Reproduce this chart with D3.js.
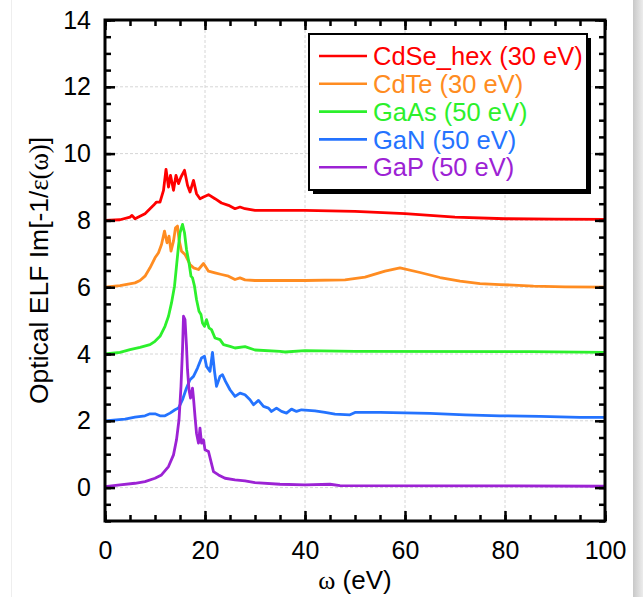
<!DOCTYPE html>
<html>
<head>
<meta charset="utf-8">
<script src="https://cdn.jsdelivr.net/npm/d3@7"></script>
<style>
  html, body { margin: 0; padding: 0; background: #fff; }
  svg { display: block; font-family: "Liberation Sans", Arial, sans-serif; }
</style>
</head>
<body>
<div id="chart"></div>
<script>
// series labels and colours
const seriesNames = ['CdSe_hex (30 eV)', 'CdTe (30 eV)', 'GaAs (50 eV)', 'GaN (50 eV)', 'GaP (50 eV)'];
const seriesColors = ['#ff0000', '#ff8c21', '#2cf02c', '#2473ff', '#9c22d4'];

// values (eV, ELF + offset)
const cdseX = [0, 3, 5, 5.4, 6, 8, 9.7, 10.3, 11, 11.7, 12.2, 12.7, 13.1, 13.7, 14.2, 14.7, 15.2, 15.9, 16.5, 17, 17.7, 18.3, 19, 19.7, 20.7, 22, 23.3, 24.7, 26, 27, 28, 30, 40, 50, 60, 70, 80, 90, 100];
const cdseY = [8.0, 8.02, 8.1, 8.15, 8.05, 8.2, 8.45, 8.55, 8.55, 8.9, 9.53, 9.0, 9.35, 8.9, 9.35, 9.1, 9.3, 9.5, 9.05, 8.85, 9.2, 8.8, 8.65, 8.7, 8.77, 8.65, 8.52, 8.45, 8.35, 8.4, 8.35, 8.3, 8.3, 8.27, 8.2, 8.1, 8.05, 8.04, 8.03];

const cdteX = [0, 3, 6, 7, 8, 9, 10, 10.7, 11.3, 11.9, 12.4, 12.8, 13.2, 13.7, 14.1, 14.5, 14.8, 15.3, 16, 17, 17.7, 18.7, 19.7, 20.7, 22, 23.3, 24.7, 26, 27, 28, 30, 40, 48, 52, 56, 59, 63, 67, 71, 75, 79, 85.7, 92, 100];
const cdteY = [6.0, 6.05, 6.13, 6.2, 6.33, 6.58, 6.88, 7.03, 7.28, 7.68, 7.33, 7.53, 7.08, 7.38, 7.78, 7.83, 7.43, 7.08, 6.98, 6.68, 6.58, 6.53, 6.71, 6.48, 6.43, 6.38, 6.33, 6.23, 6.28, 6.22, 6.2, 6.2, 6.22, 6.3, 6.48, 6.58, 6.44, 6.29, 6.18, 6.11, 6.08, 6.03, 6.01, 6.0];

const gaasX = [0, 3, 5, 7, 9, 10, 11, 12, 12.7, 13.3, 13.9, 14.3, 14.7, 15, 15.5, 15.9, 16.3, 16.8, 17.2, 17.5, 17.9, 18.3, 18.8, 19.2, 19.5, 19.9, 20.3, 20.8, 21.3, 22, 23, 23.7, 25, 26, 28, 30, 35, 36, 40, 50, 85, 100];
const gaasY = [4.0, 4.05, 4.13, 4.2, 4.28, 4.38, 4.53, 4.83, 5.13, 5.53, 6.03, 6.63, 7.23, 7.63, 7.88, 7.63, 7.13, 6.73, 6.33, 6.28, 6.03, 5.63, 5.28, 5.18, 4.93, 4.83, 5.03, 4.78, 4.73, 4.48, 4.43, 4.28, 4.23, 4.18, 4.22, 4.12, 4.08, 4.06, 4.1, 4.08, 4.07, 4.05];

const ganX = [0, 4, 6, 8, 9, 10, 11, 12, 13, 14, 14.7, 15.5, 16.3, 17, 17.7, 18.5, 19.3, 19.9, 20.3, 21, 21.5, 21.9, 22.3, 23, 23.5, 24.1, 25, 26, 27, 28, 29, 29.7, 30.7, 31.7, 32.7, 33.3, 34.3, 35.3, 36.3, 37.3, 38.3, 39.3, 42, 44, 46, 49, 50, 55, 65, 72, 79, 87, 95, 100];
const ganY = [2.0, 2.05, 2.11, 2.15, 2.21, 2.21, 2.15, 2.15, 2.23, 2.33, 2.38, 2.63, 2.98, 3.23, 3.33, 3.58, 3.88, 3.93, 3.63, 3.48, 4.05, 3.48, 3.03, 3.33, 3.38, 3.18, 2.93, 2.73, 2.83, 2.78, 2.63, 2.48, 2.61, 2.43, 2.38, 2.28, 2.38, 2.28, 2.23, 2.35, 2.28, 2.33, 2.3, 2.25, 2.2, 2.18, 2.25, 2.25, 2.22, 2.18, 2.15, 2.13, 2.1, 2.1];

const gapX = [0, 3, 6, 8, 10, 11.3, 12.7, 13.7, 14.3, 14.8, 15.2, 15.5, 15.7, 16, 16.3, 16.5, 16.8, 17.1, 17.5, 17.7, 18, 18.3, 18.7, 19, 19.3, 19.7, 20, 20.7, 21.2, 21.7, 22.7, 24, 26, 28, 30, 35, 40, 45, 47, 82, 100];
const gapY = [0.03, 0.08, 0.13, 0.18, 0.28, 0.38, 0.63, 0.98, 1.43, 2.03, 3.03, 4.13, 5.13, 5.03, 4.23, 3.53, 2.93, 2.68, 2.98, 2.68, 2.13, 1.63, 1.33, 1.78, 1.33, 1.43, 1.13, 1.08, 0.78, 0.48, 0.38, 0.28, 0.23, 0.2, 0.15, 0.1, 0.08, 0.1, 0.06, 0.05, 0.04];

const seriesX = [cdseX, cdteX, gaasX, ganX, gapX];
const seriesY = [cdseY, cdteY, gaasY, ganY, gapY];

const xTicks = [0, 20, 40, 60, 80, 100];
const yTicks = [0, 2, 4, 6, 8, 10, 12, 14];

const W = 643, H = 597;
const margin = { top: 20, right: 38, bottom: 76, left: 105 };
const width = W - margin.left - margin.right;   // 500
const height = H - margin.top - margin.bottom;  // 501

const svg = d3.select('#chart').append('svg')
  .attr('width', W)
  .attr('height', H);

// faint page frame and shadow on the right
const grad = svg.append('defs').append('linearGradient').attr('id', 'shade');
grad.append('stop').attr('offset', '0%').attr('stop-color', '#c8c8c8');
grad.append('stop').attr('offset', '100%').attr('stop-color', '#ececec');
svg.append('rect').attr('x', 633).attr('y', 0).attr('width', 10).attr('height', H).attr('fill', 'url(#shade)');
svg.append('line').attr('x1', 11.5).attr('x2', 11.5).attr('y1', 0).attr('y2', H)
  .attr('stroke', '#eeeeee').attr('stroke-width', 1);

const x = d3.scaleLinear().domain([0, 100]).range([0, width]);
const y = d3.scaleLinear().domain([-1, 14]).range([height, 0]);

const g = svg.append('g').attr('transform', `translate(${margin.left},${margin.top})`);

// grid
g.append('g').selectAll('line').data(xTicks.filter(d => d > 0 && d < 100)).join('line')
  .attr('x1', d => x(d)).attr('x2', d => x(d)).attr('y1', 0).attr('y2', height)
  .attr('stroke', '#d6d6d6').attr('stroke-dasharray', '3,2').attr('stroke-width', 1);
g.append('g').selectAll('line').data(yTicks.filter(d => d < 14)).join('line')
  .attr('x1', 0).attr('x2', width).attr('y1', d => y(d)).attr('y2', d => y(d))
  .attr('stroke', '#d6d6d6').attr('stroke-dasharray', '3,2').attr('stroke-width', 1);

// curves
const line = d3.line().x(d => x(d[0])).y(d => y(d[1]));
seriesX.forEach((xs, i) => {
  const pts = xs.map((v, j) => [v, seriesY[i][j]]);
  g.append('path')
    .attr('d', line(pts))
    .attr('fill', 'none')
    .attr('stroke', seriesColors[i])
    .attr('stroke-width', 2.8)
    .attr('stroke-linejoin', 'round');
});

// axes with inward ticks on all four sides
function styleAxis(sel) {
  sel.select('.domain').remove();
  sel.selectAll('.tick line').attr('stroke', '#000').attr('stroke-width', 2.5);
  sel.selectAll('.tick text').attr('font-size', '25px').attr('fill', '#000')
    .attr('font-family', '"Liberation Sans", Arial, sans-serif');
}
const xMinor = d3.range(0, 101, 5);
const yMinor = d3.range(-1, 14.01, 0.5);

g.append('g').attr('transform', `translate(0,${height})`)
  .call(d3.axisBottom(x).tickValues(xMinor).tickSize(-6).tickFormat(''))
  .call(styleAxis);
g.append('g').attr('transform', `translate(0,${height})`)
  .call(d3.axisBottom(x).tickValues(xTicks).tickSize(-10).tickPadding(20))
  .call(styleAxis);
g.append('g')
  .call(d3.axisTop(x).tickValues(xMinor).tickSize(-6).tickFormat(''))
  .call(styleAxis);
g.append('g')
  .call(d3.axisTop(x).tickValues(xTicks).tickSize(-10).tickFormat(''))
  .call(styleAxis);
g.append('g')
  .call(d3.axisLeft(y).tickValues(yMinor).tickSize(-6).tickFormat(''))
  .call(styleAxis);
g.append('g')
  .call(d3.axisLeft(y).tickValues(yTicks).tickSize(-10).tickPadding(14))
  .call(styleAxis);
g.append('g').attr('transform', `translate(${width},0)`)
  .call(d3.axisRight(y).tickValues(yMinor).tickSize(-6).tickFormat(''))
  .call(styleAxis);
g.append('g').attr('transform', `translate(${width},0)`)
  .call(d3.axisRight(y).tickValues(yTicks).tickSize(-10).tickFormat(''))
  .call(styleAxis);

// frame
g.append('rect').attr('width', width).attr('height', height)
  .attr('fill', 'none').attr('stroke', '#000').attr('stroke-width', 3);

// axis titles
const xt = svg.append('text')
  .attr('x', margin.left + width / 2).attr('y', 589)
  .attr('text-anchor', 'middle').attr('font-size', '26px');
xt.append('tspan').attr('font-family', '"Liberation Serif", serif').text('ω');
xt.append('tspan').text(' (eV)');

const yt = svg.append('text')
  .attr('transform', `translate(48,${margin.top + height / 2}) rotate(-90)`)
  .attr('text-anchor', 'middle').attr('font-size', '26.5px');
yt.append('tspan').text('Optical ELF Im[-1/');
yt.append('tspan').attr('font-family', '"Liberation Serif", serif').text('ε(ω)');
yt.append('tspan').text(']');

// legend
const lg = svg.append('g').attr('transform', 'translate(309,34)');
lg.append('rect').attr('x', 4).attr('y', 4).attr('width', 278).attr('height', 156).attr('fill', '#000');
lg.append('rect').attr('width', 278).attr('height', 156).attr('fill', '#fff')
  .attr('stroke', '#000').attr('stroke-width', 2);
seriesNames.forEach((name, i) => {
  const cy = 22 + i * 27.8;
  lg.append('line').attr('x1', 10).attr('x2', 58).attr('y1', cy).attr('y2', cy)
    .attr('stroke', seriesColors[i]).attr('stroke-width', 2.6);
  lg.append('text').attr('x', 64).attr('y', cy).attr('dy', '0.36em')
    .attr('font-size', '25.5px').attr('fill', seriesColors[i]).text(name);
});
</script>
</body>
</html>
